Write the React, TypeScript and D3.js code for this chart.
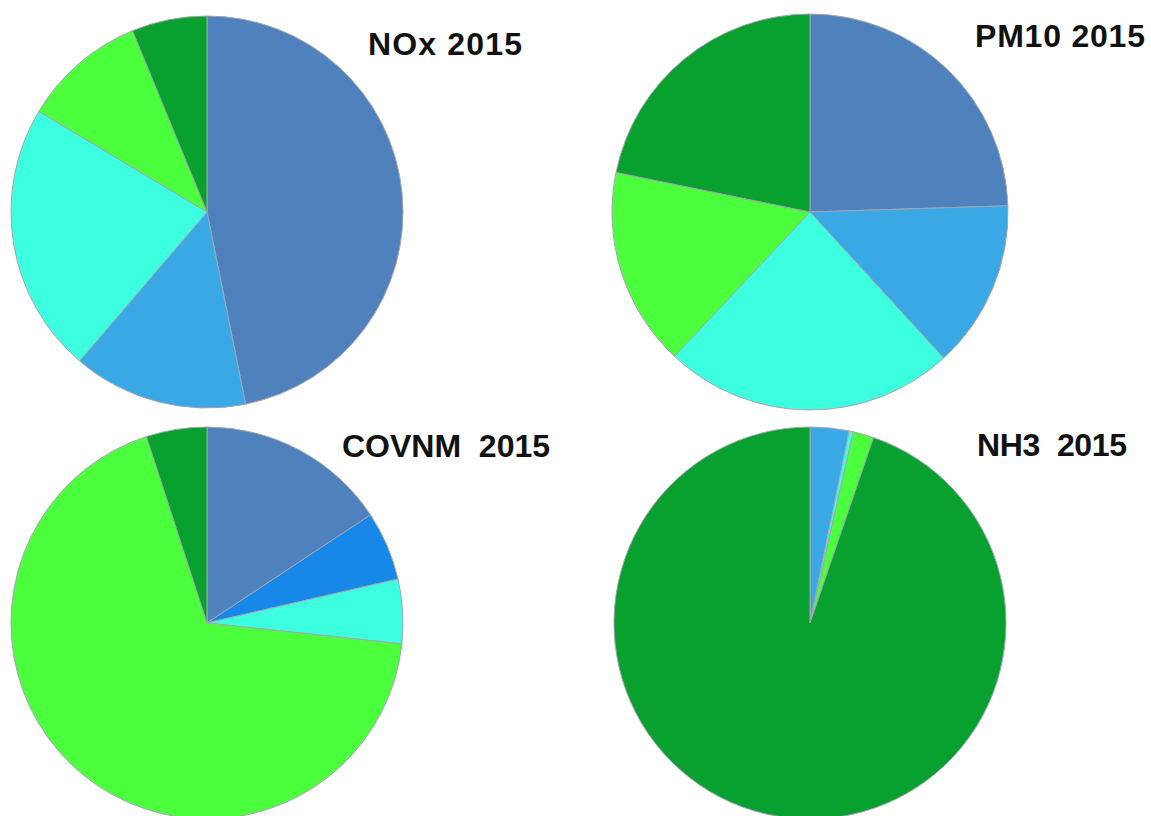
import { useEffect, useRef } from "react";
import * as d3 from "d3";

// sectors, in clockwise order from 12 o'clock
const sectors = ["Transport routier", "Autres transports", "Industrie", "Résidentiel / tertiaire", "Agriculture / sylviculture", "Autres sources"];
const sectorColors = ["#4f81bd", "#1787e8", "#3aa8e4", "#3cffe0", "#4cff3c", "#08a02e"];

// shares in percent
const noxValues = [46.8, 0, 14.4, 22.3, 10.2, 6.2];
const pm10Values = [24.5, 0, 13.7, 23.8, 16.2, 21.8];
const covnmValues = [15.7, 5.7, 0, 5.3, 68.3, 5.0];
const nh3Values = [0, 0, 3.2, 0.35, 1.7, 94.75];

const titles = ["NOx 2015", "PM10 2015", "COVNM  2015", "NH3  2015"];

type Panel = { values: number[]; cx: number; cy: number; r: number; tx: number; ty: number; tw: number };

export default function App() {
  const ref = useRef<SVGSVGElement>(null);
  useEffect(() => {
    document.body.style.margin = "0";
    if (!ref.current) return;
    const svg = d3.select(ref.current);
    svg.selectAll("*").remove();

    const panels: Panel[] = [
      { values: noxValues, cx: 207, cy: 212, r: 196, tx: 368, ty: 55, tw: 154 },
      { values: pm10Values, cx: 810, cy: 212, r: 198, tx: 975, ty: 47, tw: 170 },
      { values: covnmValues, cx: 207, cy: 623, r: 196, tx: 342, ty: 457, tw: 208 },
      { values: nh3Values, cx: 810, cy: 623, r: 196, tx: 977, ty: 456, tw: 150 },
    ];

    const color = d3.scaleOrdinal<string, string>().domain(sectors).range(sectorColors);
    const pie = d3.pie<number>().sort(null).value((d) => d);

    panels.forEach((p, i) => {
      const arc = d3.arc<d3.PieArcDatum<number>>().innerRadius(0).outerRadius(p.r);
      const g = svg.append("g").attr("transform", `translate(${p.cx},${p.cy})`);
      g.selectAll("path")
        .data(pie(p.values).filter((d) => d.data > 0))
        .join("path")
        .attr("d", arc)
        .attr("fill", (d) => color(sectors[d.index]))
        .attr("stroke", "#a4a4b4")
        .attr("stroke-width", 1)
        .attr("stroke-linejoin", "round");

      svg.append("text")
        .attr("x", p.tx)
        .attr("y", p.ty)
        .attr("textLength", p.tw)
        .attr("lengthAdjust", "spacing")
        .style("white-space", "pre")
        .attr("font-family", "Liberation Sans, Arial, sans-serif")
        .attr("font-weight", "bold")
        .attr("font-size", 32)
        .attr("fill", "#111")
        .text(titles[i]);
    });
  }, []);
  return <svg ref={ref} width={1151} height={816} style={{ display: "block", position: "absolute", left: 0, top: 0 }} />;
}
